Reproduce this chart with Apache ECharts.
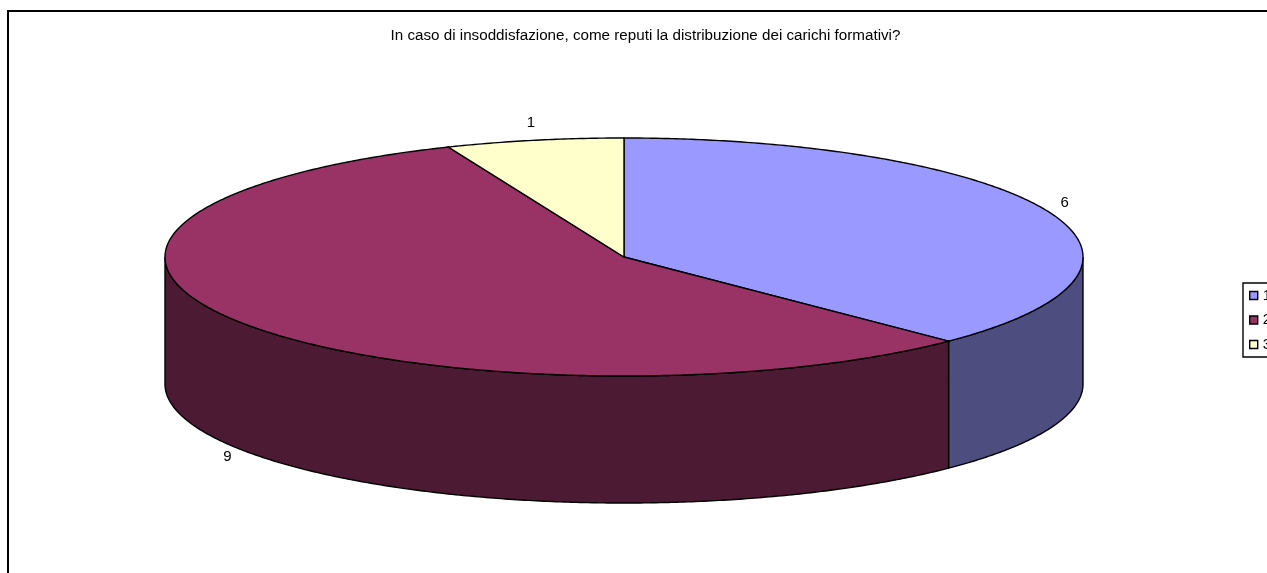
<!DOCTYPE html>
<html>
<head>
<meta charset="utf-8">
<style>
  html, body { margin: 0; padding: 0; background: #fff; overflow: hidden; }
  #chart { width: 1267px; height: 573px; }
</style>
<script src="https://cdn.jsdelivr.net/npm/echarts@6/dist/echarts.min.js"></script>
</head>
<body>
<div id="chart"></div>
<script>
const chartTitle = 'In caso di insoddisfazione, come reputi la distribuzione dei carichi formativi?';
const categories = ['1', '2', '3'];
const seriesValues = [6, 9, 1];
const topColors = ['#9999ff', '#993366', '#ffffcc'];
const sideColors = ['#4d4d80', '#4d1a33', '#808066'];

// pie geometry
const cx = 624, cy = 257, rx = 459, ry = 119, depth = 127;
const total = seriesValues.reduce((a, b) => a + b, 0);

// angle measured clockwise from the top of the ellipse
function pt(deg, dy) {
  const r = deg * Math.PI / 180;
  return [cx + rx * Math.sin(r), cy - ry * Math.cos(r) + (dy || 0)];
}

// points along the rim, from one angle to the other
function rim(from, to, dy) {
  const pts = [];
  const steps = Math.ceil(Math.abs(to - from) * 2);
  for (let s = 0; s <= steps; s++) {
    pts.push(pt(from + (to - from) * s / steps, dy));
  }
  return pts;
}

function renderSlice(params) {
  const i = params.seriesIndex;
  let start = 0;
  for (let k = 0; k < i; k++) start += seriesValues[k] / total * 360;
  const end = start + seriesValues[i] / total * 360;
  const mid = (start + end) / 2;
  const children = [];
  const line = { stroke: '#000', lineWidth: 1.4 };

  // side wall only for the part facing the viewer (90..270 deg)
  const a = Math.max(start, 90), b = Math.min(end, 270);
  if (a < b) {
    children.push({
      type: 'polygon',
      shape: { points: rim(a, b).concat(rim(b, a, depth)) },
      style: Object.assign({ fill: sideColors[i] }, line)
    });
  }

  children.push({
    type: 'polygon',
    shape: { points: [[cx, cy]].concat(rim(start, end)) },
    style: Object.assign({ fill: topColors[i] }, line)
  });

  // value label, dropped below the wall when the slice faces the front
  const r = mid * Math.PI / 180;
  const front = mid > 90 && mid < 270;
  children.push({
    type: 'text',
    x: cx + (rx + 18) * Math.sin(r),
    y: cy - (ry + 16) * Math.cos(r) - 2 + (front ? depth : 0),
    style: {
      text: String(seriesValues[i]),
      fill: '#000',
      font: '15px "Liberation Sans"',
      align: 'center',
      verticalAlign: 'middle'
    }
  });
  return { type: 'group', children };
}

const chart = echarts.init(document.getElementById('chart'), null, { renderer: 'canvas' });
chart.setOption({
  animation: false,
  backgroundColor: '#fff',
  title: {
    text: chartTitle,
    left: 645.5,
    top: 28,
    padding: 0,
    textAlign: 'center',
    textStyle: { color: '#000', fontSize: 15.2, fontWeight: 'normal', fontFamily: 'Liberation Sans', lineHeight: 15 }
  },
  legend: {
    left: 1243,
    top: 283,
    orient: 'vertical',
    icon: 'rect',
    itemWidth: 8,
    itemHeight: 8,
    itemGap: 9.5,
    selectedMode: false,
    data: categories,
    padding: [5, 20, 5, 6],
    borderColor: '#000',
    borderWidth: 1.4,
    itemStyle: { borderColor: '#000', borderWidth: 1.4 },
    textStyle: { color: '#000', fontSize: 15, fontFamily: 'Liberation Sans', lineHeight: 15 }
  },
  graphic: [{
    type: 'rect',
    shape: { x: 8, y: 11, width: 1400, height: 700 },
    style: { fill: 'none', stroke: '#000', lineWidth: 2 },
    silent: true
  }],
  series: categories.map((name, i) => ({
    name,
    type: 'custom',
    coordinateSystem: 'none',
    renderItem: renderSlice,
    itemStyle: { color: topColors[i] },
    silent: true,
    data: [seriesValues[i]]
  }))
});
</script>
</body>
</html>
